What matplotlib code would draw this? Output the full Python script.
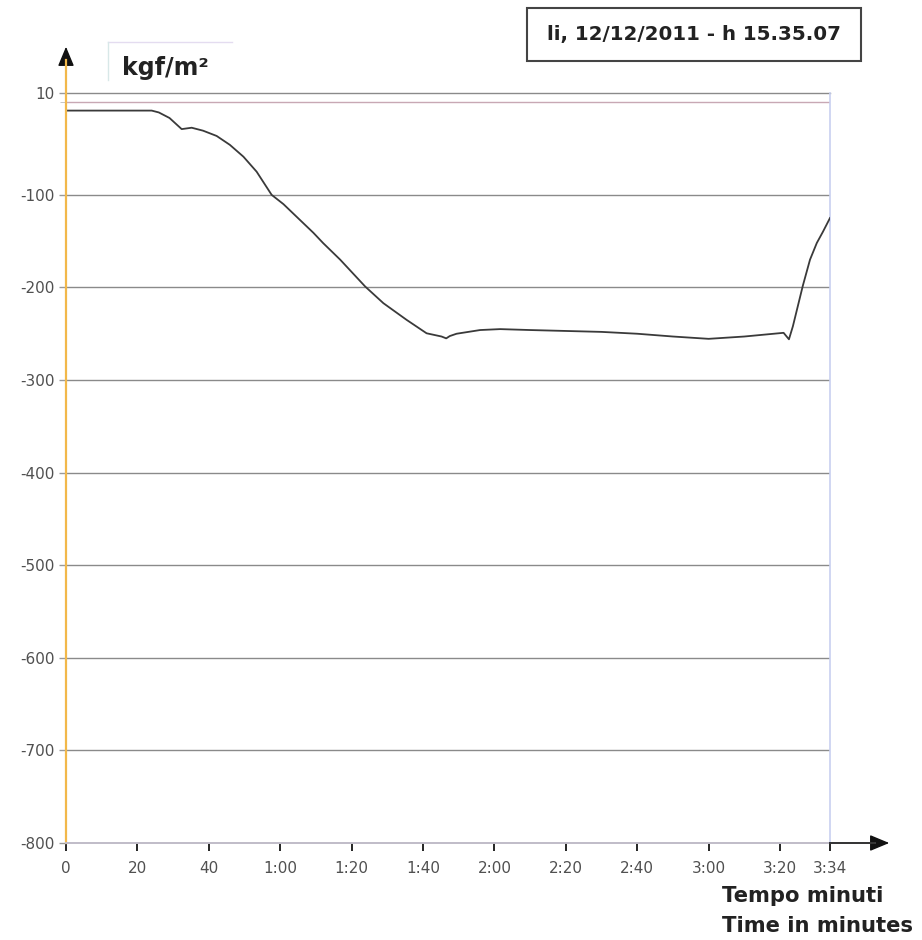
import matplotlib.pyplot as plt
from matplotlib.patches import Rectangle
from matplotlib.lines import Line2D

# pressure trace (seconds, kgf/m²)
time_s = [0, 24, 26, 29, 32.4, 35.2, 38.4, 42.2, 45.9, 49.7, 53.4, 57.6, 60.9,
          65.5, 69.3, 72, 76.8, 83.8, 88.9, 95.4, 101, 105.2, 106.5, 107.5,
          109.4, 116, 121.6, 130, 140, 150, 160, 170, 180, 190, 201, 202.5,
          203.6, 206.4, 208.4, 210.3, 212, 214]
pressure = [-9, -9, -11, -17, -29, -27.5, -30.7, -36.4, -46, -58.8, -75, -100, -110,
            -127, -141, -152, -170, -199, -217, -235, -249.5, -253, -255, -252.5,
            -250, -246, -245, -246, -247, -248, -250, -253, -255.5, -253, -249, -256,
            -242, -198, -170, -152, -140, -125]

x_ticks = [0, 20, 40, 60, 80, 100, 120, 140, 160, 180, 200, 214]
x_labels = ["0", "20", "40", "1:00", "1:20", "1:40", "2:00", "2:20", "2:40",
            "3:00", "3:20", "3:34"]
y_ticks = [10, -100, -200, -300, -400, -500, -600, -700, -800]
y_labels = ["10", "-100", "-200", "-300", "-400", "-500", "-600", "-700", "-800"]

fig = plt.figure(figsize=(9.22, 9.40), dpi=100)
W, H = 922, 940
ax = fig.add_axes([66 / W, 1 - 843 / H, (830 - 66) / W, (843 - 93) / H])

ax.plot(time_s, pressure, color="#3a3a3a", linewidth=1.3, zorder=3)

ax.set_xlim(0, 214)
ax.set_ylim(-800, 10)

ax.set_xticks(x_ticks)
ax.set_xticklabels(x_labels)
ax.set_yticks(y_ticks)
ax.set_yticklabels(y_labels)
ax.set_yticks([0], minor=True)

for y in y_ticks[1:-1]:
    ax.axhline(y, color="#8a8a8a", linewidth=1.0, zorder=1)
ax.axhline(10, color="#8a8a8a", linewidth=1.0, zorder=1, clip_on=False)
ax.axhline(0, color="#c8a8b4", linewidth=1.0, zorder=1)

ax.tick_params(axis="both", labelsize=11, labelcolor="#505050")
ax.tick_params(axis="y", length=5, width=1, color="#999999", pad=3)
ax.tick_params(axis="y", which="minor", length=4, color="#bbbbbb")
ax.tick_params(axis="x", length=6, width=1.2, pad=7)

tick_colors = ["#f0c040", "#5060b0", "#f0a040", "#5060b0", "#f0a040", "#8a3050",
               "#f0d060", "#5060b0", "#5060b0", "#c04040", "#5080c0", "#f0c040"]
for tick, c in zip(ax.xaxis.get_major_ticks(), tick_colors):
    tick.tick1line.set_color(c)

ax.spines["top"].set_visible(False)
ax.spines["left"].set_visible(False)
ax.spines["bottom"].set_visible(False)
ax.spines["right"].set_color("#c8d0f0")
ax.spines["right"].set_linewidth(1.2)

# extended axes with arrow heads (figure pixel space)
def px(x, y):
    return x / W, 1 - y / H

fig.add_artist(Line2D(*zip(px(66, 843), px(66, 60)), color="#f2b84a", linewidth=1.6))
fig.add_artist(Line2D(*zip(px(66, 843), px(875, 843)), color="#c0bcc8", linewidth=1.4))
fig.add_artist(Line2D(*zip(px(830, 843), px(875, 843)), color="#333333", linewidth=1.4))
ax.annotate("", xy=px(66, 44), xytext=px(66, 66), xycoords="figure fraction",
            arrowprops=dict(arrowstyle="-|>,head_length=1.2,head_width=0.5",
                            color="#111111", lw=1))
ax.annotate("", xy=px(892, 843), xytext=px(868, 843), xycoords="figure fraction",
            arrowprops=dict(arrowstyle="-|>,head_length=1.2,head_width=0.5",
                            color="#111111", lw=1))

# unit label with its faint frame
fig.text(*px(122, 68), "kgf/m²", fontsize=17, fontweight="bold", color="#222222",
         ha="left", va="center")
fig.add_artist(Line2D(*zip(px(108, 42), px(232, 42)), color="#e4dcf0", linewidth=1))
fig.add_artist(Line2D(*zip(px(108, 42), px(108, 80)), color="#d8e8e8", linewidth=1))

# date box
x0, y0 = px(527, 61)
x1, y1 = px(861, 8)
fig.add_artist(Rectangle((x0, y0), x1 - x0, y1 - y0, transform=fig.transFigure,
                         fill=False, edgecolor="#444444", linewidth=1.5))
fig.text((x0 + x1) / 2, (y0 + y1) / 2, "li, 12/12/2011 - h 15.35.07", fontsize=14.3,
         fontweight="bold", color="#222222", ha="center", va="center")

fig.text(*px(722, 896), "Tempo minuti", fontsize=15.2, fontweight="bold",
         color="#222222", ha="left", va="center")
fig.text(*px(722, 926), "Time in minutes", fontsize=15.2, fontweight="bold",
         color="#222222", ha="left", va="center")

fig.savefig("out.png", dpi=100, facecolor="white")
